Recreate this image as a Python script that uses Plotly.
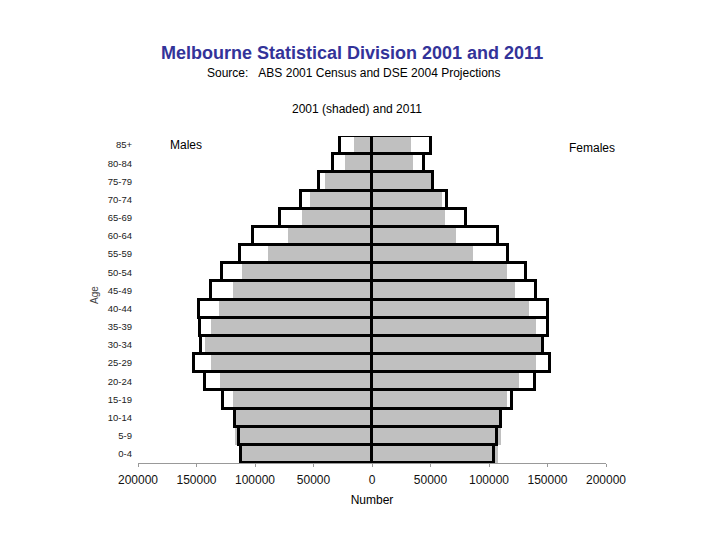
import plotly.graph_objs as go

# age groups, bottom to top
ages = ["0-4", "5-9", "10-14", "15-19", "20-24", "25-29", "30-34", "35-39", "40-44",
        "45-49", "50-54", "55-59", "60-64", "65-69", "70-74", "75-79", "80-84", "85+"]

# persons
males_2001 = [114000, 117500, 116500, 118500, 129500, 138000, 143000, 138000, 131000,
              118500, 111000, 88500, 71500, 59500, 53000, 40500, 23500, 15000]
males_2011 = [112000, 113500, 117500, 127500, 143000, 152000, 146500, 147000, 148000,
              137500, 128500, 112500, 101500, 78500, 61000, 45000, 33500, 27000]
females_2001 = [107500, 110500, 108500, 115000, 126000, 140000, 145000, 140000, 134000,
                122000, 115500, 86000, 72000, 62000, 59500, 51000, 35000, 33000]
females_2011 = [104000, 106500, 110000, 120000, 139000, 152000, 146500, 150000, 150000,
                140000, 132000, 116500, 107500, 80000, 64500, 52500, 44500, 50500]

tick_vals = [-200000, -150000, -100000, -50000, 0, 50000, 100000, 150000, 200000]
tick_text = ["200000", "150000", "100000", "50000", "0", "50000", "100000", "150000", "200000"]

FONT = "Arial, Liberation Sans, sans-serif"
GREY = "#c0c0c0"

fig = go.Figure()


def add_pair(vals_2001, vals_2011, sign):
    x01 = [sign * v for v in vals_2001]
    x11 = [sign * v for v in vals_2011]
    # 2011 white body, 2001 shaded on top, then 2011 outline over everything
    fig.add_trace(go.Bar(y=ages, x=x11, orientation="h", width=1,
                         marker=dict(color="white", line=dict(width=0))))
    fig.add_trace(go.Bar(y=ages, x=x01, orientation="h", width=1,
                         marker=dict(color=GREY, line=dict(width=0))))
    fig.add_trace(go.Bar(y=ages, x=x11, orientation="h", width=1,
                         marker=dict(color="rgba(0,0,0,0)",
                                     line=dict(color="black", width=3))))


add_pair(males_2001, males_2011, -1)
add_pair(females_2001, females_2011, 1)

fig.update_layout(
    width=720, height=540,
    margin=dict(l=138, r=114, t=136, b=77),
    paper_bgcolor="white", plot_bgcolor="white",
    barmode="overlay", bargap=0,
    showlegend=False,
    font=dict(family=FONT, color="black"),
)

fig.update_xaxes(range=[-200000, 200000], tickvals=tick_vals, ticktext=tick_text,
                 tickfont=dict(size=12, color="#111"), showgrid=False, zeroline=False,
                 showline=True, linecolor="#999", linewidth=1,
                 ticks="outside", ticklen=3, tickcolor="#999", automargin=False,
                 ticklabelstandoff=3,
                 title=dict(text="Number", font=dict(size=12), standoff=9))
fig.update_yaxes(range=[-0.5, 17.5], tickfont=dict(size=9.5, color="#222"),
                 showgrid=False, zeroline=False, showline=False, ticks="",
                 ticklabelstandoff=5, automargin=False)

notes = [
    dict(text="<b>Melbourne Statistical Division 2001 and 2011</b>", x=0.458, y=1.255,
         font=dict(size=18, color="#333399"), xanchor="center"),
    dict(text="Source:\u00a0\u00a0\u00a0ABS 2001 Census and DSE 2004 Projections", x=0.4626, y=1.1936,
         font=dict(size=12), xanchor="center"),
    dict(text="2001 (shaded) and 2011", x=0.4669, y=1.0826, font=dict(size=12), xanchor="center"),
    dict(text="Males", x=0.0641, y=0.9725, font=dict(size=12), xanchor="left"),
    dict(text="Females", x=0.9167, y=0.9642, font=dict(size=12), xanchor="left"),
    dict(text="Age", x=-0.0919, y=0.5138, font=dict(size=10, color="#444"), textangle=-90,
         xanchor="center"),
]
for n in notes:
    fig.add_annotation(xref="paper", yref="paper", showarrow=False, yanchor="middle", **n)

# page body margin would push the chart 8px right/down
fig.write_html("out.html", config={"displayModeBar": False},
               post_script="document.body.style.margin='0';")
